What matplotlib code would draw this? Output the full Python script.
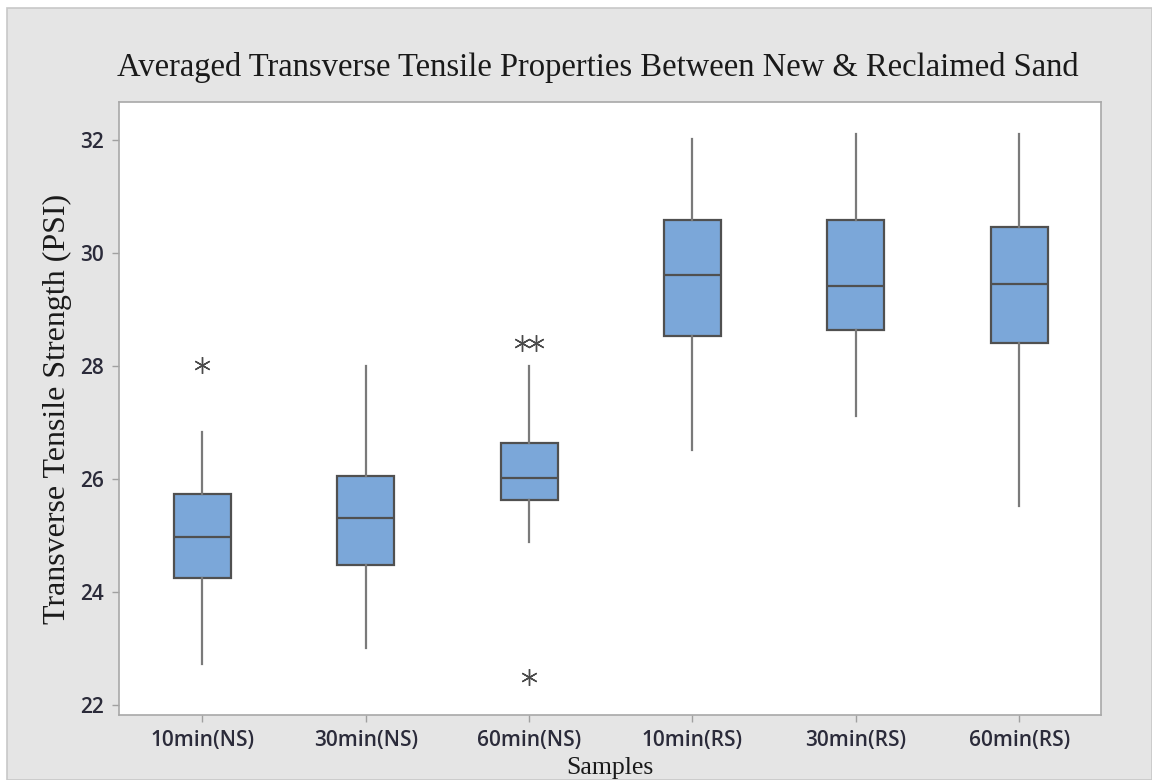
import matplotlib.pyplot as plt
from matplotlib.patches import Rectangle

# box statistics per sample (PSI)
labels = ['10min(NS)', '30min(NS)', '60min(NS)', '10min(RS)', '30min(RS)', '60min(RS)']
whis_lo = [22.73, 23.01, 24.89, 26.51, 27.12, 25.52]
q1 = [24.25, 24.48, 25.63, 28.53, 28.64, 28.41]
medians = [24.97, 25.31, 26.02, 29.61, 29.42, 29.45]
q3 = [25.73, 26.05, 26.64, 30.58, 30.58, 30.46]
whis_hi = [26.83, 28.00, 28.00, 32.02, 32.10, 32.10]
outliers = [[28.02], [], [28.41, 28.41, 22.50], [], [], []]

box_color = '#7BA7D9'
edge_color = '#505050'
whisker_color = '#7a7a7a'
tick_color = '#2b2b3a'

fig = plt.figure(figsize=(11.52, 7.8), dpi=100, facecolor='white')
# grey chart background with thin frame
fig.patches.append(Rectangle((0.006, 0.0), 0.994, 0.99, transform=fig.transFigure,
                             facecolor='#E5E5E5', edgecolor='#C8C8C8', lw=1.2, zorder=-2))

ax = fig.add_axes([0.1033, 0.0833, 0.8524, 0.7859])
ax.set_facecolor('white')

stats = []
for i in range(len(labels)):
    stats.append({'label': labels[i], 'whislo': whis_lo[i], 'q1': q1[i], 'med': medians[i],
                  'q3': q3[i], 'whishi': whis_hi[i], 'fliers': []})

ax.bxp(stats, positions=range(1, len(labels) + 1), widths=0.35, patch_artist=True,
       showfliers=False, showcaps=False,
       boxprops=dict(facecolor=box_color, edgecolor=edge_color, linewidth=1.6),
       medianprops=dict(color=edge_color, linewidth=1.6),
       whiskerprops=dict(color=whisker_color, linewidth=1.6))

# outliers drawn as asterisks, repeated values placed side by side
star = (6, 2, 0)
for i, vals in enumerate(outliers):
    seen = {}
    for v in vals:
        seen.setdefault(v, 0)
        seen[v] += 1
    for v, n in seen.items():
        offs = [0.0] if n == 1 else [(k - (n - 1) / 2) * 0.085 for k in range(n)]
        for o in offs:
            ax.plot(i + 1 + o, v, marker=star, markersize=12, color='#4a4a4a',
                    markeredgewidth=1.0, linestyle='none')

ax.set_xlim(0.49, 6.5)
ax.set_ylim(21.82, 32.67)
ax.set_yticks([22, 24, 26, 28, 30, 32])
ax.set_xticks(range(1, len(labels) + 1))
ax.set_xticklabels(labels)

for s in ax.spines.values():
    s.set_color('#A8A8A8')
    s.set_linewidth(1.2)
ax.tick_params(axis='both', direction='out', length=5, width=1, color='#A0A0A0',
               labelcolor=tick_color, labelsize=15, pad=6)
for lbl in ax.get_xticklabels() + ax.get_yticklabels():
    lbl.set_fontfamily('Open Sans')
    lbl.set_fontweight('semibold')

fig.text(0.519, 0.914, 'Averaged Transverse Tensile Properties Between New & Reclaimed Sand',
         ha='center', va='center', fontsize=23.5, family='Liberation Serif', color='#1a1a1a')
ax.set_ylabel('Transverse Tensile Strength (PSI)', fontsize=23, family='Liberation Serif',
              color='#1a1a1a', labelpad=6)
ax.set_xlabel('Samples', fontsize=18.5, family='Liberation Serif', color='#1a1a1a', labelpad=4)

fig.savefig('out.png', dpi=100, facecolor=fig.get_facecolor())
